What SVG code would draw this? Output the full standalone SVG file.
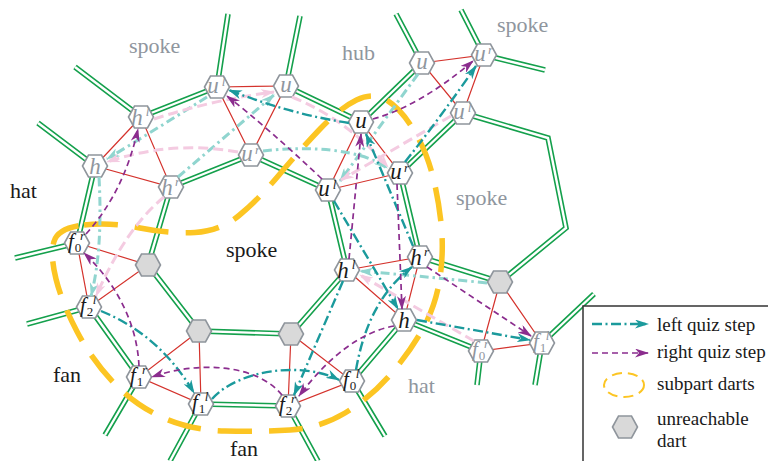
<svg xmlns="http://www.w3.org/2000/svg" xmlns:xlink="http://www.w3.org/1999/xlink" width="768" height="461" viewBox="0 0 768 461">
<defs>
<style>
.g1{fill:none;stroke:#14a04c;stroke-width:5.6;stroke-linejoin:miter}
.g2{fill:none;stroke:#fff;stroke-width:2.4;stroke-linejoin:miter}
.rd{fill:none;stroke:#d4322c;stroke-width:1.2}
.y{fill:none;stroke:#fcc523;stroke-width:5.5;stroke-dasharray:34 17}
.hw{fill:#fff;stroke:#8f959c;stroke-width:1.6}
.hg{fill:#d9d9d9;stroke:#8f959c;stroke-width:1.6}
.t{fill:none;stroke:#1b9a9c;stroke-width:2.4;stroke-dasharray:10 3.5 2 3.5;marker-end:url(#aT)}
.p{fill:none;stroke:#8b2d8e;stroke-width:1.7;stroke-dasharray:6 4;marker-end:url(#aP)}
.lt{fill:none;stroke:#90d5cf;stroke-width:3;stroke-dasharray:9 4 2.5 4;marker-end:url(#aL)}
.pk{fill:none;stroke:#f4cbe1;stroke-width:3;stroke-dasharray:10 5;marker-end:url(#aK)}
.lb{font-family:"Liberation Serif","Times New Roman",serif;font-style:italic;text-anchor:middle}
.m{font-size:23px}.s{font-size:13px}.f{font-size:21px}.sb{font-size:13px;font-style:normal}
.gr{fill:#8f969e}.bk{fill:#1a1a1a}
.rg{font-family:"Liberation Serif","Times New Roman",serif;font-size:22px}
.lg{font-family:"Liberation Serif","Times New Roman",serif;font-size:19px;fill:#1a1a1a}
</style>
<polygon id="hx" points="-12.5,0 -6.5,-11 6.5,-11 12.5,0 6.5,11 -6.5,11"/>
<marker id="aT" viewBox="0 0 14 9" refX="13" refY="4.5" markerWidth="14" markerHeight="9" markerUnits="userSpaceOnUse" orient="auto"><path d="M0,0 L14,4.5 L0,9 L4,4.5 Z" fill="#1b9a9c"/></marker>
<marker id="aP" viewBox="0 0 14 9" refX="13" refY="4.5" markerWidth="14" markerHeight="9" markerUnits="userSpaceOnUse" orient="auto"><path d="M0,0 L14,4.5 L0,9 L4,4.5 Z" fill="#8b2d8e"/></marker>
<marker id="aL" viewBox="0 0 14 9" refX="13" refY="4.5" markerWidth="14" markerHeight="9" markerUnits="userSpaceOnUse" orient="auto"><path d="M0,0 L14,4.5 L0,9 L4,4.5 Z" fill="#90d5cf"/></marker>
<marker id="aK" viewBox="0 0 14 9" refX="13" refY="4.5" markerWidth="14" markerHeight="9" markerUnits="userSpaceOnUse" orient="auto"><path d="M0,0 L14,4.5 L0,9 L4,4.5 Z" fill="#f4cbe1"/></marker>
<path id="gp" d="M217,87 L228,14 M217,87 L141,117 M141,117 L75,67 M95,166 L38,123 M95,166 L77,243 M171,187 L148,265 M171,187 L251,155 M286,86 L300,16 M286,86 L361,122 M251,155 L328,190 M361,122 L422,63 M422,63 L396,14 M484,55 L461,10 M484,55 L545,70 M463,113 L548,138 L566,228 L500,282 M463,113 L400,173 M328,190 L347,270 M400,173 L420,257 M347,270 L291,334 M404,320 L352,381 M404,320 L481,351 M481,351 L477,385 M542,343 L594,294 M542,343 L535,385 M148,265 L199,331 M199,331 L291,334 M77,243 L15,258 M89,307 L27,324 M89,307 L139,377 M139,377 L105,435 M201,404 L288,406 M201,404 L170,461 M288,406 L318,461 M352,381 L385,436 M420,257 L500,282"/>
</defs>
<rect width="768" height="461" fill="#fff"/>
<g id="connectors-edges">
<use xlink:href="#gp" class="g1"/>
<use xlink:href="#gp" class="g2"/>
<path class="rd" d="M217,87 L286,86 L251,155 Z M141,117 L95,166 L171,187 Z M361,122 L328,190 L400,173 Z M422,63 L484,55 L463,113 Z M347,270 L420,257 L404,320 Z M77,243 L148,265 L89,307 Z M199,331 L139,377 L201,404 Z M291,334 L288,406 L352,381 Z M500,282 L481,351 L542,343 Z"/>
</g>
<g id="subpart">
<path class="y" d="M84,225 Q110,222 140,228 Q170,234 195,232.5 Q220,231 239,215.5 Q258,200 279,175 Q300,150 320,129 Q340,108 356.5,100 Q373,92 386.5,100 Q400,108 412.5,128 Q425,148 431.5,171.5 Q438,195 441,222.5 Q444,250 440,277.5 Q436,305 423,328.5 Q410,352 390,375 Q370,398 345,413 Q320,428 290,430 Q260,432 225,431 Q190,430 162.5,417.5 Q135,405 113.5,382.5 Q92,360 77,331.5 Q62,303 56,279 Q50,255 54,241.5 Q58,228 84,225 Z"/>
</g>
<g id="nodes">
<g id="n-A1"><use xlink:href="#hx" class="hw" x="217" y="87"/><text class="lb m gr" x="213" y="93">u</text><text class="lb s gr" x="223.5" y="86">l</text></g>
<g id="n-A2"><use xlink:href="#hx" class="hw" x="286" y="86"/><text class="lb m gr" x="286" y="92">u</text></g>
<g id="n-A3"><use xlink:href="#hx" class="hw" x="251" y="155"/><text class="lb m gr" x="247" y="161">u</text><text class="lb s gr" x="257.5" y="154">r</text></g>
<g id="n-B1"><use xlink:href="#hx" class="hw" x="141" y="117"/><text class="lb m gr" x="137" y="125">h</text><text class="lb s gr" x="147.5" y="116">l</text></g>
<g id="n-B2"><use xlink:href="#hx" class="hw" x="95" y="166"/><text class="lb m gr" x="95" y="174">h</text></g>
<g id="n-B3"><use xlink:href="#hx" class="hw" x="171" y="187"/><text class="lb m gr" x="167" y="195">h</text><text class="lb s gr" x="177.5" y="186">r</text></g>
<g id="n-C1"><use xlink:href="#hx" class="hw" x="361" y="122"/><text class="lb m bk" x="361" y="128">u</text></g>
<g id="n-C2"><use xlink:href="#hx" class="hw" x="328" y="190"/><text class="lb m bk" x="324" y="196">u</text><text class="lb s bk" x="334.5" y="189">l</text></g>
<g id="n-C3"><use xlink:href="#hx" class="hw" x="400" y="173"/><text class="lb m bk" x="396" y="179">u</text><text class="lb s bk" x="406.5" y="172">r</text></g>
<g id="n-D1"><use xlink:href="#hx" class="hw" x="422" y="63"/><text class="lb m gr" x="422" y="69">u</text></g>
<g id="n-D2"><use xlink:href="#hx" class="hw" x="484" y="55"/><text class="lb m gr" x="480" y="61">u</text><text class="lb s gr" x="490.5" y="54">r</text></g>
<g id="n-D3"><use xlink:href="#hx" class="hw" x="463" y="113"/><text class="lb m gr" x="459" y="119">u</text><text class="lb s gr" x="469.5" y="112">l</text></g>
<g id="n-E1"><use xlink:href="#hx" class="hw" x="347" y="270"/><text class="lb m bk" x="343" y="278">h</text><text class="lb s bk" x="353.5" y="269">l</text></g>
<g id="n-E2"><use xlink:href="#hx" class="hw" x="420" y="257"/><text class="lb m bk" x="416" y="265">h</text><text class="lb s bk" x="426.5" y="256">r</text></g>
<g id="n-E3"><use xlink:href="#hx" class="hw" x="404" y="320"/><text class="lb m bk" x="404" y="328">h</text></g>
<g id="n-F1"><use xlink:href="#hx" class="hw" x="77" y="243"/><text class="lb f bk" x="71" y="248">f</text><text class="lb sb bk" x="78" y="252">0</text><text class="lb s bk" x="82.5" y="240">r</text></g>
<g id="n-F2"><use xlink:href="#hx" class="hg" x="148" y="265"/></g>
<g id="n-F3"><use xlink:href="#hx" class="hw" x="89" y="307"/><text class="lb f bk" x="83" y="312">f</text><text class="lb sb bk" x="90" y="316">2</text><text class="lb s bk" x="94.5" y="304">l</text></g>
<g id="n-G1"><use xlink:href="#hx" class="hg" x="199" y="331"/></g>
<g id="n-G2"><use xlink:href="#hx" class="hw" x="139" y="377"/><text class="lb f bk" x="133" y="382">f</text><text class="lb sb bk" x="140" y="386">1</text><text class="lb s bk" x="144.5" y="374">r</text></g>
<g id="n-G3"><use xlink:href="#hx" class="hw" x="201" y="404"/><text class="lb f bk" x="195" y="409">f</text><text class="lb sb bk" x="202" y="413">1</text><text class="lb s bk" x="206.5" y="401">l</text></g>
<g id="n-H1"><use xlink:href="#hx" class="hg" x="291" y="334"/></g>
<g id="n-H2"><use xlink:href="#hx" class="hw" x="288" y="406"/><text class="lb f bk" x="282" y="411">f</text><text class="lb sb bk" x="289" y="415">2</text><text class="lb s bk" x="293.5" y="403">r</text></g>
<g id="n-H3"><use xlink:href="#hx" class="hw" x="352" y="381"/><text class="lb f bk" x="346" y="386">f</text><text class="lb sb bk" x="353" y="390">0</text><text class="lb s bk" x="357.5" y="378">l</text></g>
<g id="n-I1"><use xlink:href="#hx" class="hg" x="500" y="282"/></g>
<g id="n-I2"><use xlink:href="#hx" class="hw" x="481" y="351"/><text class="lb f gr" x="475" y="356">f</text><text class="lb sb gr" x="482" y="360">0</text><text class="lb s gr" x="486.5" y="348">r</text></g>
<g id="n-I3"><use xlink:href="#hx" class="hw" x="542" y="343"/><text class="lb f gr" x="536" y="348">f</text><text class="lb sb gr" x="543" y="352">1</text><text class="lb s gr" x="547.5" y="340">l</text></g>
</g>
<g id="connectors-steps">
<path class="lt" d="M99,177 Q103,250 91,296"/>
<path class="lt" d="M207,97 Q158,128 107,159"/>
<path class="lt" d="M178,177 L274,95"/>
<path class="lt" d="M263,151 C305,146 360,148 387,168"/>
<path class="lt" d="M418,74 L340,181"/>
<path class="lt" d="M487,283 Q420,276 360,271"/>
<path class="pk" d="M164,197 Q126,228 96,296"/>
<path class="pk" d="M238,152 Q172,140 107,162"/>
<path class="pk" d="M154,119 Q212,100 274,92"/>
<path class="pk" d="M292,97 Q348,120 388,167"/>
<path class="pk" d="M451,116 L341,180"/>
<path class="pk" d="M474,341 L360,275"/>
<path class="t" d="M349,123 Q290,114 229,90"/>
<path class="t" d="M405,162 Q440,118 476,66"/>
<path class="t" d="M413,246 L366,134"/>
<path class="t" d="M334,201 L398,309"/>
<path class="t" d="M343,281 L294,395"/>
<path class="t" d="M356,370 Q368,300 412,267"/>
<path class="t" d="M417,320 L530,340"/>
<path class="t" d="M212,399 C240,368 305,362 339,380"/>
<path class="t" d="M101,311 Q160,335 194,393"/>
<path class="p" d="M373,119 Q420,106 473,61"/>
<path class="p" d="M322,179 Q268,128 227,96"/>
<path class="p" d="M349,259 L361,134"/>
<path class="p" d="M397,184 L402,309"/>
<path class="p" d="M427,267 L531,336"/>
<path class="p" d="M394,326 Q345,335 299,396"/>
<path class="p" d="M282,395 C258,365 200,360 152,377"/>
<path class="p" d="M139,366 C137,322 115,282 84,253"/>
<path class="p" d="M86,234 Q124,192 138,129"/>
</g>
<g id="region-labels">
<text class="rg" x="129" y="53" fill="#8f969e">spoke</text>
<text class="rg" x="342" y="60" fill="#8f969e">hub</text>
<text class="rg" x="497" y="32" fill="#8f969e">spoke</text>
<text class="rg" x="456" y="205" fill="#8f969e">spoke</text>
<text class="rg" x="226" y="257" fill="#1a1a1a">spoke</text>
<text class="rg" x="10" y="198" fill="#1a1a1a">hat</text>
<text class="rg" x="53" y="382" fill="#1a1a1a">fan</text>
<text class="rg" x="230" y="456" fill="#1a1a1a">fan</text>
<text class="rg" x="408" y="393" fill="#8f969e">hat</text>
</g>
<g id="legend">
<rect x="583" y="306" width="200" height="170" fill="#fff" stroke="#333" stroke-width="1.5"/>
<path class="t" d="M592,324 L648,324"/>
<text class="lg" x="657" y="331">left quiz step</text>
<path class="p" d="M592,353 L648,353"/>
<text class="lg" x="657" y="358">right quiz step</text>
<ellipse cx="624" cy="385" rx="20" ry="12" fill="none" stroke="#fcc523" stroke-width="2" stroke-dasharray="10 6"/>
<text class="lg" x="657" y="390">subpart darts</text>
<use xlink:href="#hx" class="hg" x="625" y="427"/>
<text class="lg" x="657" y="425">unreachable</text>
<text class="lg" x="657" y="447">dart</text>
</g>
</svg>
